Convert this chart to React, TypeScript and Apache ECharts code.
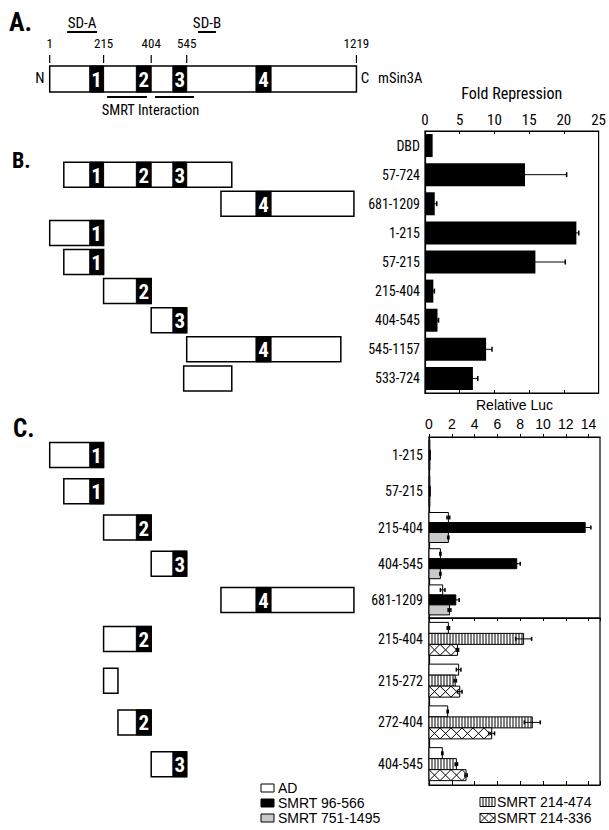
import React, { useEffect, useRef } from 'react';
import * as echarts from 'echarts';

const NARROW = "'Roboto Condensed', 'Liberation Sans Narrow', 'Liberation Sans', Arial, sans-serif";
const SANS = "'Liberation Sans', Arial, Helvetica, sans-serif";

// ---------- Panel A: mSin3A schematic (amino-acid coordinates) ----------
const proteinLength = 1219;
const pahDomains: [number, number][] = [[160, 215], [345, 404], [490, 545], [820, 880]];
const aTicks = [1, 215, 404, 545, 1219];
const sdNames = ['SD-A', 'SD-B'];
const sdRanges: [number, number][] = [[70, 189], [590, 661]];
const smrtInteractionLabel = 'SMRT Interaction';
const smrtInteractionRanges: [number, number][] = [[229, 387], [419, 574]];

// ---------- Panel B: Fold Repression ----------
const bCategories = ['DBD', '57-724', '681-1209', '1-215', '57-215', '215-404', '404-545', '545-1157', '533-724'];
const bFold = [1.1, 14.4, 1.4, 21.8, 15.9, 1.2, 1.8, 8.8, 6.9];
const bFoldErr = [0, 6.0, 0.3, 0.35, 4.3, 0.15, 0.15, 0.85, 0.7];

// ---------- Panel C: Relative Luc ----------
const cUpperCategories = ['1-215', '57-215', '215-404', '404-545', '681-1209'];
const cUpperAD = [0.05, 0.05, 1.7, 1.0, 1.2];
const cUpperADErr = [0, 0, 0.12, 0.05, 0.2];
const cUpperSmrt96 = [0.12, 0.12, 13.7, 7.7, 2.35];
const cUpperSmrt96Err = [0, 0, 0.5, 0.3, 0.3];
const cUpperSmrt751 = [0.05, 0.05, 1.7, 1.0, 1.8];
const cUpperSmrt751Err = [0, 0, 0.05, 0.05, 0.12];

const cLowerCategories = ['215-404', '215-272', '272-404', '404-545'];
const cLowerAD = [1.7, 2.6, 1.64, 1.17];
const cLowerADErr = [0.1, 0.2, 0.05, 0.05];
const cLowerSmrt474 = [8.3, 2.3, 9.06, 2.4];
const cLowerSmrt474Err = [0.7, 0.1, 0.7, 0.1];
const cLowerSmrt336 = [2.5, 2.7, 5.5, 3.25];
const cLowerSmrt336Err = [0.1, 0.2, 0.25, 0.1];

const legendLeft = ['AD', 'SMRT 96-566', 'SMRT 751-1495'];
const legendRight = ['SMRT 214-474', 'SMRT 214-336'];

type Kind = 'white' | 'black' | 'gray' | 'stripe' | 'cross';
const kindOf: Record<string, Kind> = {
  'AD': 'white',
  'SMRT 96-566': 'black',
  'SMRT 751-1495': 'gray',
  'SMRT 214-474': 'stripe',
  'SMRT 214-336': 'cross',
};

function parseRange(label: string): [number, number] | null {
  const m = label.split('-');
  if (m.length !== 2) return null;
  return [Number(m[0]), Number(m[1])];
}

function barShapes(kind: Kind, x0: number, y0: number, w: number, h: number): any[] {
  const ch: any[] = [];
  const fill = kind === 'black' ? '#000' : kind === 'gray' ? '#c9c9c9' : '#fff';
  ch.push({ type: 'rect', shape: { x: x0, y: y0, width: w, height: h }, style: { fill, stroke: '#000', lineWidth: 1 } });
  if (kind === 'stripe') {
    for (let x = x0 + 3; x < x0 + w - 0.5; x += 3) {
      ch.push({ type: 'line', shape: { x1: x, y1: y0, x2: x, y2: y0 + h }, style: { stroke: '#000', lineWidth: 1 } });
    }
  }
  if (kind === 'cross') {
    const xe = x0 + w;
    for (let a = x0; a < xe; a += h) {
      const t1 = Math.min(1, (xe - a) / h);
      if (t1 > 0) {
        ch.push({ type: 'line', shape: { x1: a, y1: y0, x2: a + t1 * h, y2: y0 + t1 * h }, style: { stroke: '#000', lineWidth: 1 } });
      }
      const t0 = Math.max(0, (a + h - xe) / h);
      if (t0 < 1) {
        ch.push({ type: 'line', shape: { x1: a + h - t0 * h, y1: y0 + t0 * h, x2: a, y2: y0 + h }, style: { stroke: '#000', lineWidth: 1 } });
      }
    }
  }
  return ch;
}

function errorShapes(xa: number, xb: number, yc: number, cap: number): any[] {
  return [
    { type: 'line', shape: { x1: xa, y1: yc, x2: xb, y2: yc }, style: { stroke: '#000', lineWidth: 1 } },
    { type: 'line', shape: { x1: xa, y1: yc - cap / 2, x2: xa, y2: yc + cap / 2 }, style: { stroke: '#000', lineWidth: 1.5 } },
    { type: 'line', shape: { x1: xb, y1: yc - cap / 2, x2: xb, y2: yc + cap / 2 }, style: { stroke: '#000', lineWidth: 1.5 } },
  ];
}

const makeDiagram = (h: number, fontSize: number) => (params: any, api: any) => {
  const s = api.value(0), e = api.value(1), c = api.value(2);
  const p0 = api.coord([s, c]);
  const x1 = api.coord([e, c])[0];
  const yc = p0[1];
  const y0 = yc - h / 2;
  const children: any[] = [
    { type: 'rect', shape: { x: p0[0], y: y0, width: x1 - p0[0], height: h }, style: { fill: '#fff', stroke: '#000', lineWidth: 1.5 } },
  ];
  pahDomains.forEach((d, i) => {
    if (d[0] >= s && d[1] <= e) {
      const d0 = api.coord([d[0], c])[0];
      const d1 = api.coord([d[1], c])[0];
      children.push({ type: 'rect', shape: { x: d0, y: y0, width: d1 - d0, height: h }, style: { fill: '#000', stroke: '#000', lineWidth: 1 } });
      children.push({
        type: 'text', x: (d0 + d1) / 2, y: yc + 1,
        style: { text: String(i + 1), fill: '#fff', fontSize, fontWeight: 'bold', fontFamily: NARROW, align: 'center', verticalAlign: 'middle' },
      });
    }
  });
  return { type: 'group', children };
};

const makeCBar = (slot: number, n: number, h: number, kind: Kind) => (params: any, api: any) => {
  const v = api.value(0), c = api.value(1), err = api.value(2);
  const p = api.coord([v, c]);
  const x0 = api.coord([0, c])[0];
  const y0 = p[1] + (slot - (n - 1) / 2) * h - h / 2;
  const children = barShapes(kind, x0, y0, Math.max(p[0] - x0, 0.8), h);
  if (err > 0) {
    const xa = api.coord([v - err, c])[0];
    const xb = api.coord([v + err, c])[0];
    children.push(...errorShapes(xa, xb, y0 + h / 2, 4));
  }
  return { type: 'group', children };
};

const bErrorItem = (params: any, api: any) => {
  const v = api.value(0), c = api.value(1), err = api.value(2);
  if (!(err > 0)) return { type: 'group', children: [] };
  const xa = api.coord([v - err, c]);
  const xb = api.coord([v + err, c]);
  return { type: 'group', children: errorShapes(xa[0], xb[0], xa[1], 5) };
};

const aTickItem = (params: any, api: any) => {
  const v = api.value(0);
  const p = api.coord([v, 0]);
  const top = p[1] - 13;
  return {
    type: 'group',
    children: [
      { type: 'line', shape: { x1: p[0], y1: top - 11, x2: p[0], y2: top - 3 }, style: { stroke: '#000', lineWidth: 1.2 } },
      { type: 'text', x: p[0], y: top - 23, style: { text: String(v), fontSize: 13, fontFamily: NARROW, fill: '#000', align: 'center', verticalAlign: 'middle' } },
    ],
  };
};

const sdItem = (params: any, api: any) => {
  const a = api.coord([api.value(0), 0]);
  const b = api.coord([api.value(1), 0]);
  const top = a[1] - 13;
  return {
    type: 'group',
    children: [
      { type: 'line', shape: { x1: a[0], y1: top - 34, x2: b[0], y2: top - 34 }, style: { stroke: '#000', lineWidth: 2 } },
      { type: 'text', x: (a[0] + b[0]) / 2, y: top - 43, style: { text: sdNames[params.dataIndex], fontSize: 15, fontFamily: NARROW, fill: '#000', align: 'center', verticalAlign: 'middle' } },
    ],
  };
};

const smrtItem = (params: any, api: any) => {
  const a = api.coord([api.value(0), 0]);
  const b = api.coord([api.value(1), 0]);
  const bottom = a[1] + 13;
  const children: any[] = [
    { type: 'line', shape: { x1: a[0], y1: bottom + 5, x2: b[0], y2: bottom + 5 }, style: { stroke: '#000', lineWidth: 2 } },
  ];
  if (params.dataIndex === 0) {
    const s = api.coord([smrtInteractionRanges[0][0], 0])[0];
    const e = api.coord([smrtInteractionRanges[smrtInteractionRanges.length - 1][1], 0])[0];
    children.push({ type: 'text', x: (s + e) / 2, y: bottom + 18, style: { text: smrtInteractionLabel, fontSize: 14.5, fontFamily: NARROW, fill: '#000', align: 'center', verticalAlign: 'middle' } });
  }
  return { type: 'group', children };
};

function diagramData(cats: string[]) {
  const out: number[][] = [];
  cats.forEach((l, i) => {
    const r = parseRange(l);
    if (r) out.push([r[0], r[1], i]);
  });
  return out;
}

const DIAG_LEFT = 49.45;
const DIAG_WIDTH = 307;

export default function App() {
  const ref = useRef<HTMLDivElement>(null);
  useEffect(() => {
    if (!ref.current) return;
    const chart = echarts.init(ref.current, null, { renderer: 'svg' });
    const hiddenX = (gridIndex: number) => ({ type: 'value', gridIndex, min: 0, max: proteinLength, show: false });
    const hiddenY = (gridIndex: number, data: string[]) => ({ type: 'category', gridIndex, data, inverse: true, show: false });
    const axisLine = { show: true, lineStyle: { color: '#000', width: 1.2 } };
    const catLabel = { fontSize: 14, fontFamily: NARROW, fontWeight: 'normal', color: '#000' };

    const legendGraphic: any[] = [];
    legendLeft.forEach((name, i) => {
      const y = 788 + i * 15;
      legendGraphic.push({ type: 'group', x: 261, y: y - 4, children: barShapes(kindOf[name], 0, 0, 13, 8) });
      legendGraphic.push({ type: 'text', x: 278, y, style: { text: name, fontSize: 14, fontFamily: SANS, fill: '#000', verticalAlign: 'middle' } });
    });
    legendRight.forEach((name, i) => {
      const y = 802 + i * 16;
      legendGraphic.push({ type: 'group', x: 480, y: y - 4.5, children: barShapes(kindOf[name], 0, 0, 15, 9) });
      legendGraphic.push({ type: 'text', x: 497, y, style: { text: name, fontSize: 14, fontFamily: SANS, fill: '#000', verticalAlign: 'middle' } });
    });

    const option: any = {
      animation: false,
      backgroundColor: '#fff',
      grid: [
        { left: DIAG_LEFT, top: 66, width: DIAG_WIDTH, height: 26 },
        { left: DIAG_LEFT, top: 131, width: DIAG_WIDTH, height: 262 },
        { left: DIAG_LEFT, top: 437, width: DIAG_WIDTH, height: 181 },
        { left: DIAG_LEFT, top: 618, width: DIAG_WIDTH, height: 167 },
        { left: 425, top: 131, width: 176, height: 262, show: true, borderColor: '#000', borderWidth: 1.2 },
        { left: 429, top: 437, width: 171, height: 181, show: true, borderColor: '#000', borderWidth: 1.2 },
        { left: 429, top: 618, width: 171, height: 167, show: true, borderColor: '#000', borderWidth: 1.2 },
      ],
      xAxis: [
        hiddenX(0), hiddenX(1), hiddenX(2), hiddenX(3),
        {
          type: 'value', gridIndex: 4, position: 'top', min: 0, max: 25, interval: 5,
          name: 'Fold Repression', nameLocation: 'middle', nameGap: 30,
          nameTextStyle: { fontSize: 16, fontFamily: NARROW, color: '#000' },
          axisLine, axisTick: { show: true, inside: true, length: 3, lineStyle: { color: '#000' } },
          axisLabel: { fontSize: 15, fontFamily: NARROW, color: '#000', margin: 4 },
          splitLine: { show: false },
        },
        {
          type: 'value', gridIndex: 4, position: 'bottom', min: 0, max: 25, interval: 5,
          axisLine, axisTick: { show: true, inside: true, length: 3, lineStyle: { color: '#000' } },
          axisLabel: { show: false }, splitLine: { show: false },
        },
        {
          type: 'value', gridIndex: 5, position: 'top', min: 0, max: 15, interval: 2,
          name: 'Relative Luc', nameLocation: 'middle', nameGap: 25,
          nameTextStyle: { fontSize: 14, fontFamily: SANS, color: '#000' },
          axisLine, axisTick: { show: true, inside: false, length: 3, lineStyle: { color: '#000' } },
          axisLabel: { fontSize: 14, fontFamily: SANS, color: '#000', margin: 6, showMaxLabel: false },
          splitLine: { show: false },
        },
        {
          type: 'value', gridIndex: 6, position: 'top', min: 0, max: 15, interval: 2,
          axisLine, axisTick: { show: true, inside: true, length: 3, lineStyle: { color: '#000' } },
          axisLabel: { show: false }, splitLine: { show: false },
        },
        {
          type: 'value', gridIndex: 6, position: 'bottom', min: 0, max: 15, interval: 2,
          axisLine, axisTick: { show: true, inside: true, length: 4, lineStyle: { color: '#000' } },
          axisLabel: { show: false }, splitLine: { show: false },
        },
      ],
      yAxis: [
        hiddenY(0, ['mSin3A']),
        hiddenY(1, bCategories),
        hiddenY(2, cUpperCategories),
        hiddenY(3, cLowerCategories),
        {
          type: 'category', gridIndex: 4, data: bCategories, inverse: true,
          axisLine, axisTick: { show: false },
          axisLabel: { ...catLabel, margin: 5 },
        },
        {
          type: 'category', gridIndex: 5, data: cUpperCategories, inverse: true,
          axisLine, axisTick: { show: false },
          axisLabel: { ...catLabel, margin: 6 },
        },
        {
          type: 'category', gridIndex: 6, data: cLowerCategories, inverse: true,
          axisLine, axisTick: { show: false },
          axisLabel: { ...catLabel, margin: 6 },
        },
      ],
      series: [
        // Panel A
        { type: 'custom', name: 'mSin3A', xAxisIndex: 0, yAxisIndex: 0, data: [[1, proteinLength, 0]], encode: { x: [0, 1], y: 2 }, renderItem: makeDiagram(26, 21) },
        { type: 'custom', name: 'aTicks', xAxisIndex: 0, yAxisIndex: 0, data: aTicks.map((t) => [t, 0]), encode: { x: 0, y: 1 }, renderItem: aTickItem },
        { type: 'custom', name: 'SD', xAxisIndex: 0, yAxisIndex: 0, data: sdRanges.map((r) => [r[0], r[1], 0]), encode: { x: [0, 1], y: 2 }, renderItem: sdItem },
        { type: 'custom', name: 'SMRT Interaction', xAxisIndex: 0, yAxisIndex: 0, data: smrtInteractionRanges.map((r) => [r[0], r[1], 0]), encode: { x: [0, 1], y: 2 }, renderItem: smrtItem },
        // Diagrams B, C
        { type: 'custom', name: 'diagB', xAxisIndex: 1, yAxisIndex: 1, data: diagramData(bCategories), encode: { x: [0, 1], y: 2 }, renderItem: makeDiagram(25, 21) },
        { type: 'custom', name: 'diagCU', xAxisIndex: 2, yAxisIndex: 2, data: diagramData(cUpperCategories), encode: { x: [0, 1], y: 2 }, renderItem: makeDiagram(25, 21) },
        { type: 'custom', name: 'diagCL', xAxisIndex: 3, yAxisIndex: 3, data: diagramData(cLowerCategories), encode: { x: [0, 1], y: 2 }, renderItem: makeDiagram(25, 21) },
        // Panel B bars
        { type: 'bar', name: 'Fold Repression', xAxisIndex: 4, yAxisIndex: 4, data: bFold, barWidth: 23, itemStyle: { color: '#000' } },
        { type: 'custom', name: 'Fold Repression err', xAxisIndex: 4, yAxisIndex: 4, data: bFold.map((v, i) => [v, i, bFoldErr[i]]), encode: { x: 0, y: 1 }, renderItem: bErrorItem },
        // Panel C upper
        { type: 'custom', name: 'AD', xAxisIndex: 6, yAxisIndex: 5, data: cUpperAD.map((v, i) => [v, i, cUpperADErr[i]]), encode: { x: 0, y: 1 }, renderItem: makeCBar(0, 3, 10, 'white') },
        { type: 'custom', name: 'SMRT 96-566', xAxisIndex: 6, yAxisIndex: 5, data: cUpperSmrt96.map((v, i) => [v, i, cUpperSmrt96Err[i]]), encode: { x: 0, y: 1 }, renderItem: makeCBar(1, 3, 10, 'black') },
        { type: 'custom', name: 'SMRT 751-1495', xAxisIndex: 6, yAxisIndex: 5, data: cUpperSmrt751.map((v, i) => [v, i, cUpperSmrt751Err[i]]), encode: { x: 0, y: 1 }, renderItem: makeCBar(2, 3, 10, 'gray') },
        // Panel C lower
        { type: 'custom', name: 'AD ', xAxisIndex: 8, yAxisIndex: 6, data: cLowerAD.map((v, i) => [v, i, cLowerADErr[i]]), encode: { x: 0, y: 1 }, renderItem: makeCBar(0, 3, 11, 'white') },
        { type: 'custom', name: 'SMRT 214-474', xAxisIndex: 8, yAxisIndex: 6, data: cLowerSmrt474.map((v, i) => [v, i, cLowerSmrt474Err[i]]), encode: { x: 0, y: 1 }, renderItem: makeCBar(1, 3, 11, 'stripe') },
        { type: 'custom', name: 'SMRT 214-336', xAxisIndex: 8, yAxisIndex: 6, data: cLowerSmrt336.map((v, i) => [v, i, cLowerSmrt336Err[i]]), encode: { x: 0, y: 1 }, renderItem: makeCBar(2, 3, 11, 'cross') },
      ],
      graphic: [
        { type: 'text', x: 9, y: 22, style: { text: 'A.', fontSize: 26, fontWeight: 'bold', fontFamily: NARROW, fill: '#000', verticalAlign: 'middle' } },
        { type: 'text', x: 12, y: 160, style: { text: 'B.', fontSize: 22, fontWeight: 'bold', fontFamily: NARROW, fill: '#000', verticalAlign: 'middle' } },
        { type: 'text', x: 13, y: 428, style: { text: 'C.', fontSize: 25, fontWeight: 'bold', fontFamily: NARROW, fill: '#000', verticalAlign: 'middle' } },
        { type: 'text', x: 40, y: 78, style: { text: 'N', fontSize: 15, fontFamily: NARROW, fill: '#000', align: 'center', verticalAlign: 'middle' } },
        { type: 'text', x: 365, y: 78, style: { text: 'C', fontSize: 15, fontFamily: NARROW, fill: '#000', align: 'center', verticalAlign: 'middle' } },
        { type: 'text', x: 378, y: 78, style: { text: 'mSin3A', fontSize: 14.5, fontFamily: NARROW, fill: '#000', verticalAlign: 'middle' } },
        ...legendGraphic,
      ],
    };
    chart.setOption(option);
    return () => chart.dispose();
  }, []);
  return <div ref={ref} style={{ position: 'fixed', left: 0, top: 0, width: 609, height: 830 }} />;
}
